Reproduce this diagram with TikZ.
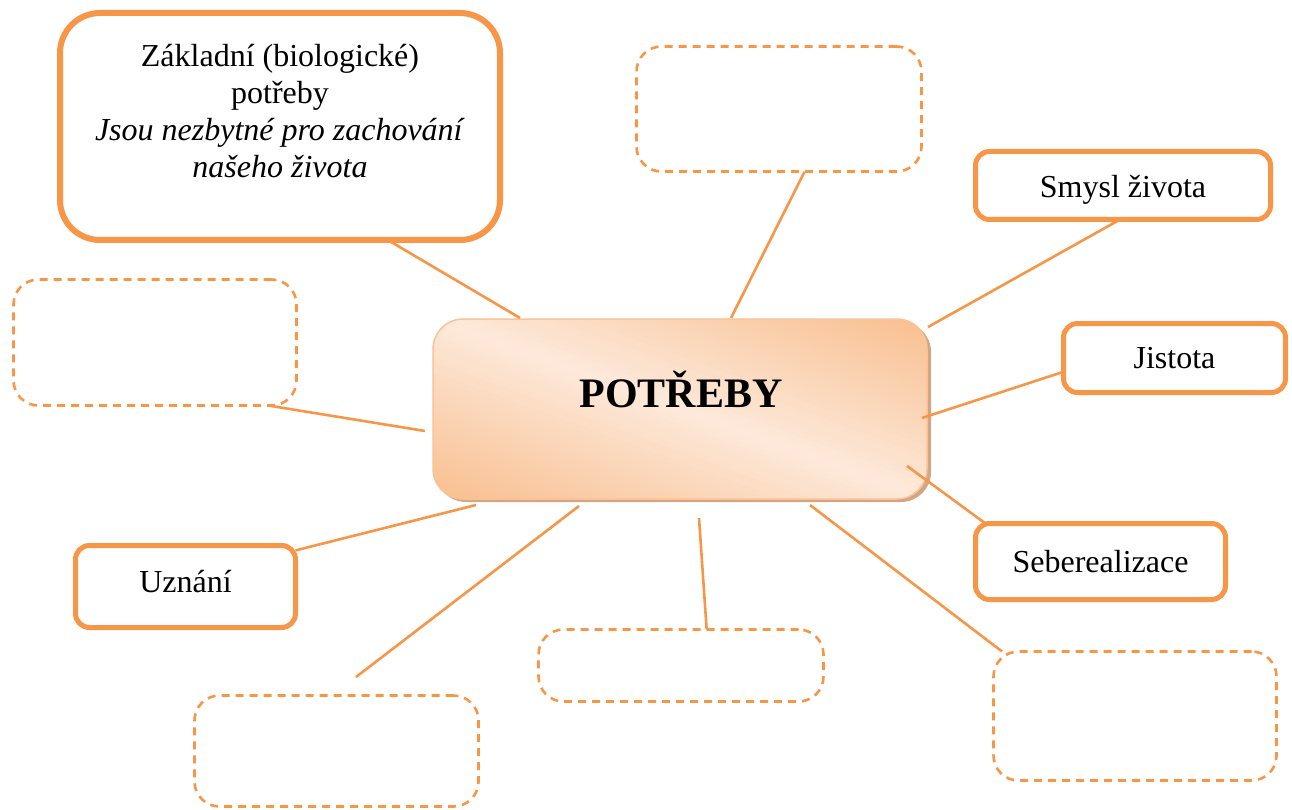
\documentclass[tikz,border=0pt]{standalone}
\usepackage{fontspec}
\setmainfont{Liberation Serif}
\usetikzlibrary{calc}
\pgfdeclarelayer{bg}
\pgfdeclarelayer{mid}
\pgfsetlayers{bg,mid,main}
\definecolor{acc}{HTML}{F79646}
\definecolor{peachD}{HTML}{F8BD8C}
\definecolor{peachL}{HTML}{FDE9DA}
\definecolor{peachB}{HTML}{FAC295}
\definecolor{shad}{HTML}{D0A685}
\begin{document}
\begin{tikzpicture}[x=1pt,y=-1pt,
  solidbox/.style={draw=acc, fill=white, line width=5pt, rounded corners=14pt, inner sep=0pt, outer sep=0pt, font=\fontsize{32}{36.8}\selectfont},
  dashbox/.style={draw=acc, fill=white, line width=2.6pt, dash pattern=on 8pt off 6pt, rounded corners=25pt, inner sep=0pt, outer sep=0pt},
  conn/.style={draw=acc, line width=2.6pt},
  lbl/.style={font=\fontsize{32}{36.8}\selectfont, inner sep=0pt, align=center}]
\useasboundingbox (0,0) rectangle (1292,810);

% centre
\begin{pgfonlayer}{bg}
\fill[shad, rounded corners=30pt] (436,322) rectangle (931,502);
\begin{scope}
\clip[rounded corners=30pt] (433,319) rectangle (927,499);
\foreach \i in {0,...,79}{
  \pgfmathsetmacro{\p}{max(0,100*(1-abs((\i+0.5)*5-200)/175))}
  \fill[peachL!\p!peachD, rotate around={-20:(680,409)}] (300,{209+\i*5}) rectangle (1060,{209+\i*5+5.6});
}
\end{scope}
\node[draw=peachB, line width=1.5pt, rounded corners=30pt, minimum width=494pt, minimum height=180pt, inner sep=0pt, outer sep=0pt] (c) at (680,409) {};
\node[font=\bfseries\fontsize{42}{48}\selectfont, inner sep=0pt] (ctext) at (681,389) {POTŘEBY};
\end{pgfonlayer}

% boxes
\node[solidbox, line width=6pt, rounded corners=40pt, minimum width=440pt, minimum height=227pt] (tl) at (280,126.5) {};
\node[lbl] (tltext) at (280,111) {Základní (biologické)\\potřeby\\\textit{Jsou nezbytné pro zachování}\\\textit{našeho života}};

\node[dashbox, minimum width=285pt, minimum height=125pt] (dtop) at (779,109) {};
\node[solidbox, minimum width=295pt, minimum height=68pt, text height=30pt, text depth=6pt] (smysl) at (1123,185.5) {Smysl života};
\node[solidbox, minimum width=222pt, minimum height=69pt] (jist) at (1174.5,358) {Jistota};
\node[solidbox, minimum width=250pt, minimum height=76pt] (seb) at (1100.5,561.5) {Seberealizace};
\node[dashbox, minimum width=283pt, minimum height=129pt] (dbr) at (1135,716) {};
\node[dashbox, minimum width=285pt, minimum height=72pt] (dbm) at (681,665.5) {};
\node[dashbox, minimum width=284pt, minimum height=111pt] (dbl) at (336.5,751) {};
\node[solidbox, minimum width=220pt, minimum height=82pt, text depth=10pt] (uzn) at (185.5,586.5) {Uznání};
\node[dashbox, minimum width=283pt, minimum height=126pt] (dl) at (155,342.5) {};

% connector ends on the centre
\coordinate (c1) at (520,318);
\coordinate (c2) at (731,318);
\coordinate (c3) at (928,327);
\coordinate (c4) at (922,418);
\coordinate (c5) at (907,466);
\coordinate (c6) at (810,505);
\coordinate (c7) at (699,518);
\coordinate (c8) at (579,506);
\coordinate (c9) at (476,505);
\coordinate (c10) at (425,431);
\coordinate (blend) at (356,677);

\begin{pgfonlayer}{mid}
\draw[conn] ($(tl.south west)!0.745!(tl.south east)$) -- (c1);
\draw[conn] ($(dtop.south west)!0.59!(dtop.south east)$) -- (c2);
\draw[conn] ($(smysl.south west)!0.49!(smysl.south east)$) -- (c3);
\draw[conn] ($(jist.north west)!0.70!(jist.south west)$) -- (c4);
\draw[conn] ($(seb.north west)!0.04!(seb.north east)$) -- (c5);
\draw[conn] ($(dbr.north west)!0.03!(dbr.north east)$) -- (c6);
\draw[conn] ($(dbm.north west)!0.59!(dbm.north east)$) -- (c7);
\draw[conn] (blend) -- (c8);
\draw[conn] ($(uzn.north east)!0.06!(uzn.south east)$) -- (c9);
\draw[conn] ($(dl.south west)!0.9!(dl.south east)$) -- (c10);
\end{pgfonlayer}
\end{tikzpicture}
\end{document}
